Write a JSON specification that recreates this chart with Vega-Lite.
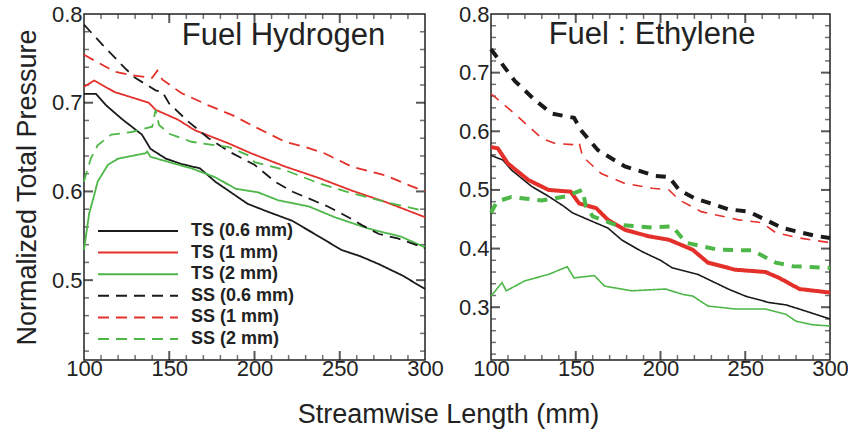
{
"$schema":"https://vega.github.io/schema/vega-lite/v6.json",
"background":"white",
"padding":{"top":2,"left":12,"right":0,"bottom":5},
"bounds":"flush",
"spacing":66,
"config":{"view":{"stroke":"#222","strokeWidth":1.5},"font":"Liberation Sans","axis":{"labelFont":"Liberation Sans","titleFont":"Liberation Sans","labelFontSize":22,"titleFontSize":27,"titleFontWeight":"normal","labelColor":"#222","titleColor":"#222","ticks":false,"tickSize":0,"domain":false,"grid":false,"labelFlush":false}},
"datasets":{
"xmaj":[{"v":150},{"v":200},{"v":250}],
"xmin":[{"v":110},{"v":120},{"v":130},{"v":140},{"v":160},{"v":170},{"v":180},{"v":190},{"v":210},{"v":220},{"v":230},{"v":240},{"v":260},{"v":270},{"v":280},{"v":290}],
"yhmaj":[{"v":0.5},{"v":0.6},{"v":0.7}],
"yhmin":[{"v":0.42},{"v":0.44},{"v":0.46},{"v":0.48},{"v":0.52},{"v":0.54},{"v":0.56},{"v":0.58},{"v":0.62},{"v":0.64},{"v":0.66},{"v":0.68},{"v":0.72},{"v":0.74},{"v":0.76},{"v":0.78}],
"yemaj":[{"v":0.3},{"v":0.4},{"v":0.5},{"v":0.6},{"v":0.7}],
"yemin":[{"v":0.22},{"v":0.24},{"v":0.26},{"v":0.28},{"v":0.32},{"v":0.34},{"v":0.36},{"v":0.38},{"v":0.42},{"v":0.44},{"v":0.46},{"v":0.48},{"v":0.52},{"v":0.54},{"v":0.56},{"v":0.58},{"v":0.62},{"v":0.64},{"v":0.66},{"v":0.68},{"v":0.72},{"v":0.74},{"v":0.76},{"v":0.78}],
"h":[
{"s":"TS (0.6 mm)","x":100,"y":0.71},{"s":"TS (0.6 mm)","x":107,"y":0.71},{"s":"TS (0.6 mm)","x":113,"y":0.697},{"s":"TS (0.6 mm)","x":122,"y":0.682},{"s":"TS (0.6 mm)","x":134,"y":0.664},{"s":"TS (0.6 mm)","x":139,"y":0.648},{"s":"TS (0.6 mm)","x":148,"y":0.637},{"s":"TS (0.6 mm)","x":157,"y":0.631},{"s":"TS (0.6 mm)","x":168,"y":0.626},{"s":"TS (0.6 mm)","x":177,"y":0.611},{"s":"TS (0.6 mm)","x":196,"y":0.586},{"s":"TS (0.6 mm)","x":208,"y":0.577},{"s":"TS (0.6 mm)","x":222,"y":0.567},{"s":"TS (0.6 mm)","x":238,"y":0.549},{"s":"TS (0.6 mm)","x":251,"y":0.534},{"s":"TS (0.6 mm)","x":262,"y":0.527},{"s":"TS (0.6 mm)","x":273,"y":0.518},{"s":"TS (0.6 mm)","x":287,"y":0.505},{"s":"TS (0.6 mm)","x":300,"y":0.49},
{"s":"TS (1 mm)","x":100,"y":0.718},{"s":"TS (1 mm)","x":106,"y":0.725},{"s":"TS (1 mm)","x":118,"y":0.712},{"s":"TS (1 mm)","x":138,"y":0.7},{"s":"TS (1 mm)","x":142,"y":0.692},{"s":"TS (1 mm)","x":155,"y":0.681},{"s":"TS (1 mm)","x":165,"y":0.669},{"s":"TS (1 mm)","x":185,"y":0.654},{"s":"TS (1 mm)","x":198,"y":0.643},{"s":"TS (1 mm)","x":218,"y":0.628},{"s":"TS (1 mm)","x":238,"y":0.615},{"s":"TS (1 mm)","x":257,"y":0.601},{"s":"TS (1 mm)","x":277,"y":0.588},{"s":"TS (1 mm)","x":300,"y":0.571},
{"s":"TS (2 mm)","x":100,"y":0.534},{"s":"TS (2 mm)","x":103,"y":0.575},{"s":"TS (2 mm)","x":106,"y":0.596},{"s":"TS (2 mm)","x":108,"y":0.611},{"s":"TS (2 mm)","x":114,"y":0.63},{"s":"TS (2 mm)","x":120,"y":0.637},{"s":"TS (2 mm)","x":136,"y":0.643},{"s":"TS (2 mm)","x":137,"y":0.645},{"s":"TS (2 mm)","x":139,"y":0.639},{"s":"TS (2 mm)","x":150,"y":0.633},{"s":"TS (2 mm)","x":163,"y":0.626},{"s":"TS (2 mm)","x":177,"y":0.616},{"s":"TS (2 mm)","x":189,"y":0.603},{"s":"TS (2 mm)","x":202,"y":0.599},{"s":"TS (2 mm)","x":214,"y":0.59},{"s":"TS (2 mm)","x":232,"y":0.583},{"s":"TS (2 mm)","x":247,"y":0.571},{"s":"TS (2 mm)","x":267,"y":0.558},{"s":"TS (2 mm)","x":286,"y":0.549},{"s":"TS (2 mm)","x":300,"y":0.537},
{"s":"SS (0.6 mm)","x":100,"y":0.788},{"s":"SS (0.6 mm)","x":111,"y":0.765},{"s":"SS (0.6 mm)","x":124,"y":0.739},{"s":"SS (0.6 mm)","x":130,"y":0.728},{"s":"SS (0.6 mm)","x":142,"y":0.714},{"s":"SS (0.6 mm)","x":146,"y":0.712},{"s":"SS (0.6 mm)","x":150,"y":0.699},{"s":"SS (0.6 mm)","x":161,"y":0.679},{"s":"SS (0.6 mm)","x":173,"y":0.66},{"s":"SS (0.6 mm)","x":185,"y":0.645},{"s":"SS (0.6 mm)","x":200,"y":0.63},{"s":"SS (0.6 mm)","x":212,"y":0.611},{"s":"SS (0.6 mm)","x":222,"y":0.6},{"s":"SS (0.6 mm)","x":243,"y":0.583},{"s":"SS (0.6 mm)","x":255,"y":0.571},{"s":"SS (0.6 mm)","x":263,"y":0.562},{"s":"SS (0.6 mm)","x":273,"y":0.552},{"s":"SS (0.6 mm)","x":284,"y":0.547},{"s":"SS (0.6 mm)","x":296,"y":0.539},{"s":"SS (0.6 mm)","x":300,"y":0.536},
{"s":"SS (1 mm)","x":100,"y":0.754},{"s":"SS (1 mm)","x":118,"y":0.735},{"s":"SS (1 mm)","x":128,"y":0.731},{"s":"SS (1 mm)","x":140,"y":0.728},{"s":"SS (1 mm)","x":143,"y":0.736},{"s":"SS (1 mm)","x":146,"y":0.726},{"s":"SS (1 mm)","x":157,"y":0.711},{"s":"SS (1 mm)","x":173,"y":0.697},{"s":"SS (1 mm)","x":187,"y":0.686},{"s":"SS (1 mm)","x":200,"y":0.673},{"s":"SS (1 mm)","x":218,"y":0.656},{"s":"SS (1 mm)","x":230,"y":0.65},{"s":"SS (1 mm)","x":241,"y":0.643},{"s":"SS (1 mm)","x":257,"y":0.628},{"s":"SS (1 mm)","x":277,"y":0.618},{"s":"SS (1 mm)","x":288,"y":0.609},{"s":"SS (1 mm)","x":300,"y":0.6},
{"s":"SS (2 mm)","x":100,"y":0.611},{"s":"SS (2 mm)","x":101,"y":0.618},{"s":"SS (2 mm)","x":104,"y":0.637},{"s":"SS (2 mm)","x":108,"y":0.652},{"s":"SS (2 mm)","x":116,"y":0.664},{"s":"SS (2 mm)","x":128,"y":0.667},{"s":"SS (2 mm)","x":140,"y":0.673},{"s":"SS (2 mm)","x":142,"y":0.692},{"s":"SS (2 mm)","x":144,"y":0.675},{"s":"SS (2 mm)","x":150,"y":0.665},{"s":"SS (2 mm)","x":163,"y":0.656},{"s":"SS (2 mm)","x":177,"y":0.652},{"s":"SS (2 mm)","x":185,"y":0.65},{"s":"SS (2 mm)","x":196,"y":0.641},{"s":"SS (2 mm)","x":200,"y":0.633},{"s":"SS (2 mm)","x":218,"y":0.624},{"s":"SS (2 mm)","x":238,"y":0.609},{"s":"SS (2 mm)","x":257,"y":0.598},{"s":"SS (2 mm)","x":277,"y":0.588},{"s":"SS (2 mm)","x":300,"y":0.578}
],
"e":[
{"s":"TS (0.6 mm)","x":100,"y":0.559},{"s":"TS (0.6 mm)","x":107,"y":0.551},{"s":"TS (0.6 mm)","x":112,"y":0.534},{"s":"TS (0.6 mm)","x":124,"y":0.506},{"s":"TS (0.6 mm)","x":134,"y":0.489},{"s":"TS (0.6 mm)","x":143,"y":0.472},{"s":"TS (0.6 mm)","x":148,"y":0.461},{"s":"TS (0.6 mm)","x":160,"y":0.446},{"s":"TS (0.6 mm)","x":169,"y":0.435},{"s":"TS (0.6 mm)","x":177,"y":0.415},{"s":"TS (0.6 mm)","x":189,"y":0.395},{"s":"TS (0.6 mm)","x":200,"y":0.38},{"s":"TS (0.6 mm)","x":207,"y":0.367},{"s":"TS (0.6 mm)","x":222,"y":0.356},{"s":"TS (0.6 mm)","x":240,"y":0.331},{"s":"TS (0.6 mm)","x":250,"y":0.319},{"s":"TS (0.6 mm)","x":264,"y":0.308},{"s":"TS (0.6 mm)","x":274,"y":0.304},{"s":"TS (0.6 mm)","x":285,"y":0.294},{"s":"TS (0.6 mm)","x":300,"y":0.28},
{"s":"TS (1 mm)","x":100,"y":0.573},{"s":"TS (1 mm)","x":104,"y":0.571},{"s":"TS (1 mm)","x":110,"y":0.545},{"s":"TS (1 mm)","x":122,"y":0.517},{"s":"TS (1 mm)","x":134,"y":0.5},{"s":"TS (1 mm)","x":147,"y":0.497},{"s":"TS (1 mm)","x":152,"y":0.477},{"s":"TS (1 mm)","x":162,"y":0.469},{"s":"TS (1 mm)","x":169,"y":0.449},{"s":"TS (1 mm)","x":179,"y":0.432},{"s":"TS (1 mm)","x":193,"y":0.421},{"s":"TS (1 mm)","x":205,"y":0.415},{"s":"TS (1 mm)","x":219,"y":0.398},{"s":"TS (1 mm)","x":228,"y":0.376},{"s":"TS (1 mm)","x":244,"y":0.364},{"s":"TS (1 mm)","x":262,"y":0.36},{"s":"TS (1 mm)","x":270,"y":0.35},{"s":"TS (1 mm)","x":282,"y":0.331},{"s":"TS (1 mm)","x":300,"y":0.325},
{"s":"TS (2 mm)","x":100,"y":0.319},{"s":"TS (2 mm)","x":106.5,"y":0.342},{"s":"TS (2 mm)","x":109,"y":0.328},{"s":"TS (2 mm)","x":120,"y":0.345},{"s":"TS (2 mm)","x":134,"y":0.356},{"s":"TS (2 mm)","x":145,"y":0.369},{"s":"TS (2 mm)","x":149,"y":0.35},{"s":"TS (2 mm)","x":161,"y":0.354},{"s":"TS (2 mm)","x":167,"y":0.336},{"s":"TS (2 mm)","x":183,"y":0.328},{"s":"TS (2 mm)","x":203,"y":0.331},{"s":"TS (2 mm)","x":213,"y":0.322},{"s":"TS (2 mm)","x":219,"y":0.319},{"s":"TS (2 mm)","x":228,"y":0.302},{"s":"TS (2 mm)","x":244,"y":0.297},{"s":"TS (2 mm)","x":262,"y":0.297},{"s":"TS (2 mm)","x":274,"y":0.288},{"s":"TS (2 mm)","x":280,"y":0.276},{"s":"TS (2 mm)","x":290,"y":0.27},{"s":"TS (2 mm)","x":300,"y":0.268},
{"s":"SS (0.6 mm)","x":100,"y":0.74},{"s":"SS (0.6 mm)","x":114,"y":0.686},{"s":"SS (0.6 mm)","x":126,"y":0.653},{"s":"SS (0.6 mm)","x":136,"y":0.63},{"s":"SS (0.6 mm)","x":149,"y":0.623},{"s":"SS (0.6 mm)","x":153,"y":0.602},{"s":"SS (0.6 mm)","x":163,"y":0.568},{"s":"SS (0.6 mm)","x":179,"y":0.54},{"s":"SS (0.6 mm)","x":197,"y":0.524},{"s":"SS (0.6 mm)","x":205,"y":0.522},{"s":"SS (0.6 mm)","x":211,"y":0.5},{"s":"SS (0.6 mm)","x":220,"y":0.486},{"s":"SS (0.6 mm)","x":240,"y":0.467},{"s":"SS (0.6 mm)","x":252,"y":0.463},{"s":"SS (0.6 mm)","x":262,"y":0.449},{"s":"SS (0.6 mm)","x":272,"y":0.435},{"s":"SS (0.6 mm)","x":291,"y":0.422},{"s":"SS (0.6 mm)","x":300,"y":0.418},
{"s":"SS (1 mm)","x":100,"y":0.664},{"s":"SS (1 mm)","x":114,"y":0.63},{"s":"SS (1 mm)","x":130,"y":0.588},{"s":"SS (1 mm)","x":138,"y":0.579},{"s":"SS (1 mm)","x":150,"y":0.577},{"s":"SS (1 mm)","x":152,"y":0.581},{"s":"SS (1 mm)","x":154,"y":0.557},{"s":"SS (1 mm)","x":165,"y":0.528},{"s":"SS (1 mm)","x":179,"y":0.511},{"s":"SS (1 mm)","x":195,"y":0.503},{"s":"SS (1 mm)","x":205,"y":0.5},{"s":"SS (1 mm)","x":211,"y":0.483},{"s":"SS (1 mm)","x":224,"y":0.463},{"s":"SS (1 mm)","x":246,"y":0.449},{"s":"SS (1 mm)","x":260,"y":0.444},{"s":"SS (1 mm)","x":268,"y":0.427},{"s":"SS (1 mm)","x":282,"y":0.418},{"s":"SS (1 mm)","x":300,"y":0.41},
{"s":"SS (2 mm)","x":100,"y":0.461},{"s":"SS (2 mm)","x":103.5,"y":0.48},{"s":"SS (2 mm)","x":112,"y":0.488},{"s":"SS (2 mm)","x":130,"y":0.482},{"s":"SS (2 mm)","x":144,"y":0.489},{"s":"SS (2 mm)","x":154,"y":0.5},{"s":"SS (2 mm)","x":156,"y":0.472},{"s":"SS (2 mm)","x":160,"y":0.455},{"s":"SS (2 mm)","x":173,"y":0.441},{"s":"SS (2 mm)","x":195,"y":0.436},{"s":"SS (2 mm)","x":207,"y":0.438},{"s":"SS (2 mm)","x":215,"y":0.41},{"s":"SS (2 mm)","x":234,"y":0.398},{"s":"SS (2 mm)","x":254,"y":0.397},{"s":"SS (2 mm)","x":268,"y":0.376},{"s":"SS (2 mm)","x":278,"y":0.37},{"s":"SS (2 mm)","x":300,"y":0.367}
]},
"resolve":{"scale":{"color":"independent","strokeDash":"independent"}},
"hconcat":[
{"width":341,"height":346,
 "layer":[
  {"data":{"name":"xmaj"},"mark":{"type":"tick","orient":"vertical","size":9,"thickness":2,"color":"#111","yOffset":-4.5},"encoding":{"x":{"field":"v","type":"quantitative","scale":{"domain":[100,300],"nice":false},"axis":null},"y":{"datum":0.41,"type":"quantitative","axis":null}}},
  {"data":{"name":"xmaj"},"mark":{"type":"tick","orient":"vertical","size":9,"thickness":2,"color":"#111","yOffset":4.5},"encoding":{"x":{"field":"v","type":"quantitative","axis":null},"y":{"datum":0.8,"type":"quantitative","axis":null}}},
  {"data":{"name":"xmin"},"mark":{"type":"tick","orient":"vertical","size":5,"thickness":1.5,"color":"#333","yOffset":-2.5},"encoding":{"x":{"field":"v","type":"quantitative","axis":null},"y":{"datum":0.41,"type":"quantitative","axis":null}}},
  {"data":{"name":"xmin"},"mark":{"type":"tick","orient":"vertical","size":5,"thickness":1.5,"color":"#333","yOffset":2.5},"encoding":{"x":{"field":"v","type":"quantitative","axis":null},"y":{"datum":0.8,"type":"quantitative","axis":null}}},
  {"data":{"name":"yhmaj"},"mark":{"type":"tick","orient":"horizontal","size":9,"thickness":2,"color":"#111","xOffset":4.5},"encoding":{"y":{"field":"v","type":"quantitative","scale":{"domain":[0.41,0.8],"nice":false,"zero":false},"axis":null},"x":{"datum":100,"type":"quantitative","axis":null}}},
  {"data":{"name":"yhmaj"},"mark":{"type":"tick","orient":"horizontal","size":9,"thickness":2,"color":"#111","xOffset":-4.5},"encoding":{"y":{"field":"v","type":"quantitative","axis":null},"x":{"datum":300,"type":"quantitative","axis":null}}},
  {"data":{"name":"yhmin"},"mark":{"type":"tick","orient":"horizontal","size":5,"thickness":1.5,"color":"#333","xOffset":2.5},"encoding":{"y":{"field":"v","type":"quantitative","axis":null},"x":{"datum":100,"type":"quantitative","axis":null}}},
  {"data":{"name":"yhmin"},"mark":{"type":"tick","orient":"horizontal","size":5,"thickness":1.5,"color":"#333","xOffset":-2.5},"encoding":{"y":{"field":"v","type":"quantitative","axis":null},"x":{"datum":300,"type":"quantitative","axis":null}}},
  {"data":{"name":"h"},"mark":{"type":"line","strokeWidth":1.8},
   "encoding":{
    "x":{"field":"x","type":"quantitative","scale":{"domain":[100,300],"nice":false},"axis":{"orient":"bottom","values":[100,150,200,250,300],"labelPadding":-2,"title":"Streamwise Length (mm)","titleX":364,"titlePadding":22}},
    "y":{"field":"y","type":"quantitative","scale":{"domain":[0.41,0.8],"nice":false,"zero":false},"axis":{"orient":"left","values":[0.5,0.6,0.7,0.8],"format":".1f","labelPadding":2,"title":"Normalized Total Pressure","titlePadding":10}},
    "color":{"field":"s","type":"nominal","scale":{"domain":["TS (0.6 mm)","TS (1 mm)","TS (2 mm)","SS (0.6 mm)","SS (1 mm)","SS (2 mm)"],"range":["#1a1a1a","#e4302b","#4db748","#1a1a1a","#e4302b","#4db748"]},"legend":{"orient":"none","legendX":43,"legendY":206,"title":null,"symbolType":"M-4,0H4","symbolSize":400,"symbolStrokeWidth":2,"labelFont":"Liberation Sans","labelFontSize":18,"labelFontWeight":"bold","labelColor":"#222","labelOffset":42,"rowPadding":1.6,"padding":0}},
    "strokeDash":{"field":"s","type":"nominal","scale":{"domain":["TS (0.6 mm)","TS (1 mm)","TS (2 mm)","SS (0.6 mm)","SS (1 mm)","SS (2 mm)"],"range":[[1,0],[1,0],[1,0],[11,7],[11,7],[11,7]]},"legend":{"orient":"none","legendX":43,"legendY":206,"title":null,"symbolType":"M-4,0H4","symbolSize":400,"symbolStrokeWidth":2,"labelFont":"Liberation Sans","labelFontSize":18,"labelFontWeight":"bold","labelColor":"#222","labelOffset":42,"rowPadding":1.6,"padding":0}}
   }},
  {"data":{"values":[{"x":217,"y":0.7655,"t":"Fuel Hydrogen"}]},
   "mark":{"type":"text","font":"Liberation Sans","fontSize":31,"align":"center","baseline":"alphabetic","color":"#222"},
   "encoding":{
    "x":{"field":"x","type":"quantitative","axis":null},
    "y":{"field":"y","type":"quantitative","axis":null},
    "text":{"field":"t","type":"nominal"}
   }}
 ],
 "resolve":{"axis":{"x":"independent","y":"independent"}}
},
{"width":339,"height":346,
 "layer":[
  {"data":{"name":"xmaj"},"mark":{"type":"tick","orient":"vertical","size":9,"thickness":2,"color":"#111","yOffset":-4.5},"encoding":{"x":{"field":"v","type":"quantitative","scale":{"domain":[100,300],"nice":false},"axis":null},"y":{"datum":0.21,"type":"quantitative","axis":null}}},
  {"data":{"name":"xmaj"},"mark":{"type":"tick","orient":"vertical","size":9,"thickness":2,"color":"#111","yOffset":4.5},"encoding":{"x":{"field":"v","type":"quantitative","axis":null},"y":{"datum":0.8,"type":"quantitative","axis":null}}},
  {"data":{"name":"xmin"},"mark":{"type":"tick","orient":"vertical","size":5,"thickness":1.5,"color":"#333","yOffset":-2.5},"encoding":{"x":{"field":"v","type":"quantitative","axis":null},"y":{"datum":0.21,"type":"quantitative","axis":null}}},
  {"data":{"name":"xmin"},"mark":{"type":"tick","orient":"vertical","size":5,"thickness":1.5,"color":"#333","yOffset":2.5},"encoding":{"x":{"field":"v","type":"quantitative","axis":null},"y":{"datum":0.8,"type":"quantitative","axis":null}}},
  {"data":{"name":"yemaj"},"mark":{"type":"tick","orient":"horizontal","size":9,"thickness":2,"color":"#111","xOffset":4.5},"encoding":{"y":{"field":"v","type":"quantitative","scale":{"domain":[0.21,0.8],"nice":false,"zero":false},"axis":null},"x":{"datum":100,"type":"quantitative","axis":null}}},
  {"data":{"name":"yemaj"},"mark":{"type":"tick","orient":"horizontal","size":9,"thickness":2,"color":"#111","xOffset":-4.5},"encoding":{"y":{"field":"v","type":"quantitative","axis":null},"x":{"datum":300,"type":"quantitative","axis":null}}},
  {"data":{"name":"yemin"},"mark":{"type":"tick","orient":"horizontal","size":5,"thickness":1.5,"color":"#333","xOffset":2.5},"encoding":{"y":{"field":"v","type":"quantitative","axis":null},"x":{"datum":100,"type":"quantitative","axis":null}}},
  {"data":{"name":"yemin"},"mark":{"type":"tick","orient":"horizontal","size":5,"thickness":1.5,"color":"#333","xOffset":-2.5},"encoding":{"y":{"field":"v","type":"quantitative","axis":null},"x":{"datum":300,"type":"quantitative","axis":null}}},
  {"data":{"name":"e"},"mark":{"type":"line"},
   "encoding":{
    "x":{"field":"x","type":"quantitative","scale":{"domain":[100,300],"nice":false},"axis":{"orient":"bottom","values":[100,150,200,250,300],"labelPadding":-2,"title":null}},
    "y":{"field":"y","type":"quantitative","scale":{"domain":[0.21,0.8],"nice":false,"zero":false},"axis":{"orient":"left","values":[0.3,0.4,0.5,0.6,0.7,0.8],"format":".1f","labelPadding":2,"title":null}},
    "color":{"field":"s","type":"nominal","scale":{"domain":["TS (0.6 mm)","TS (1 mm)","TS (2 mm)","SS (0.6 mm)","SS (1 mm)","SS (2 mm)"],"range":["#1a1a1a","#e4302b","#4db748","#1a1a1a","#e4302b","#4db748"]},"legend":null},
    "strokeDash":{"field":"s","type":"nominal","scale":{"domain":["TS (0.6 mm)","TS (1 mm)","TS (2 mm)","SS (0.6 mm)","SS (1 mm)","SS (2 mm)"],"range":[[1,0],[1,0],[1,0],[10,8],[10,8],[10,8]]},"legend":null},
    "strokeWidth":{"field":"s","type":"nominal","scale":{"type":"ordinal","domain":["TS (0.6 mm)","TS (1 mm)","TS (2 mm)","SS (0.6 mm)","SS (1 mm)","SS (2 mm)"],"range":[1.6,4,1.6,4,1.6,4]},"legend":null}
   }},
  {"data":{"values":[{"x":195,"y":0.749,"t":"Fuel : Ethylene"}]},
   "mark":{"type":"text","font":"Liberation Sans","fontSize":31,"align":"center","baseline":"alphabetic","color":"#222"},
   "encoding":{
    "x":{"field":"x","type":"quantitative","axis":null},
    "y":{"field":"y","type":"quantitative","axis":null},
    "text":{"field":"t","type":"nominal"}
   }}
 ],
 "resolve":{"axis":{"x":"independent","y":"independent"}}
}
]
}
